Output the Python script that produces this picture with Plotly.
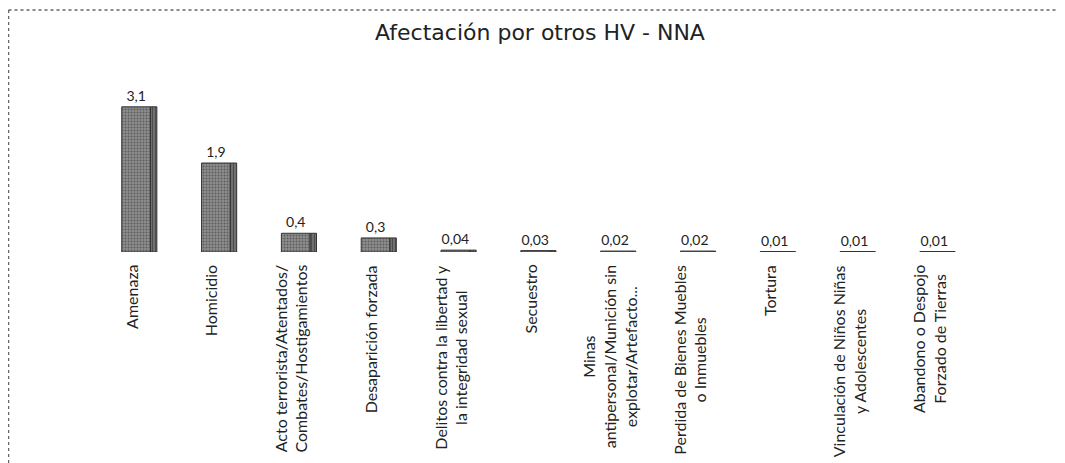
import plotly.graph_objects as go

categories = [
    "Amenaza",
    "Homicidio",
    "Acto terrorista/Atentados/<br>Combates/Hostigamientos",
    "Desaparición forzada",
    "Delitos contra la libertad y<br>la integridad sexual",
    "Secuestro",
    "Minas<br>antipersonal/Munición sin<br>explotar/Artefacto...",
    "Perdida de Bienes Muebles<br>o Inmuebles",
    "Tortura",
    "Vinculación de Niños Niñas<br>y Adolescentes",
    "Abandono o Despojo<br>Forzado de Tierras",
]
values = [3.1, 1.9, 0.4, 0.3, 0.04, 0.03, 0.02, 0.02, 0.01, 0.01, 0.01]
value_labels = ["3,1", "1,9", "0,4", "0,3", "0,04", "0,03", "0,02", "0,02", "0,01", "0,01", "0,01"]

xs = list(range(len(categories)))

fig = go.Figure()
# front face
fig.add_trace(go.Bar(
    x=xs, y=values,
    width=0.36, offset=-0.19,
    marker=dict(color="#868686", line=dict(color="#333333", width=1),
                pattern=dict(shape=".", fgcolor="#2a2a2a", bgcolor="#8e8e8e", size=3, solidity=0.35)),
    text=value_labels, textposition="outside", cliponaxis=False,
    textfont=dict(family="Lato", size=14, color="#222222"),
))
# side face (depth)
fig.add_trace(go.Bar(
    x=xs, y=values,
    width=0.08, offset=0.17,
    marker=dict(color="#555555", line=dict(color="#333333", width=1),
                pattern=dict(shape="|", fgcolor="#222222", bgcolor="#707070", size=3, solidity=0.3)),
    hoverinfo="skip",
))

for xi, lab in zip(xs, categories):
    fig.add_annotation(x=xi, y=0, xref="x", yref="y", text=lab, textangle=-90,
                       showarrow=False, align="center", yanchor="top", xanchor="center",
                       xshift=-6, yshift=-11, font=dict(family="Lato", size=16, color="#222222"))

W, H = 1057, 455
L, R, T, B = 89, 90, 52, 211
pw, ph = W - L - R, H - T - B

def px_x(p):
    return (p - L) / pw

def px_y(p):
    return 1 - (p - T) / ph

# frame lines (top and left), like the scanned chart border
fig.add_shape(type="line", xref="paper", yref="paper", x0=px_x(0.5), x1=px_x(W), y0=px_y(2), y1=px_y(2),
              line=dict(color="#666666", width=1.5, dash="dot"))
fig.add_shape(type="line", xref="paper", yref="paper", x0=px_x(0.5), x1=px_x(0.5), y0=px_y(2), y1=px_y(H),
              line=dict(color="#666666", width=1.5, dash="dot"))

fig.update_layout(
    width=W, height=H,
    margin=dict(l=L, r=R, t=T, b=B),
    paper_bgcolor="white", plot_bgcolor="white",
    showlegend=False,
    barmode="overlay",
    title=dict(text="Afectación por otros HV - NNA", x=532 / W, xanchor="center",
               xref="container", y=1 - 24 / H, yanchor="middle",
               font=dict(family="DejaVu Sans", size=22, color="#222222")),
    xaxis=dict(range=[-0.5, 10.5], showticklabels=False, showgrid=False, zeroline=False,
               showline=False, ticks=""),
    yaxis=dict(range=[0, 4.1], visible=False, showgrid=False, zeroline=False),
)

fig.write_html("out.html")
